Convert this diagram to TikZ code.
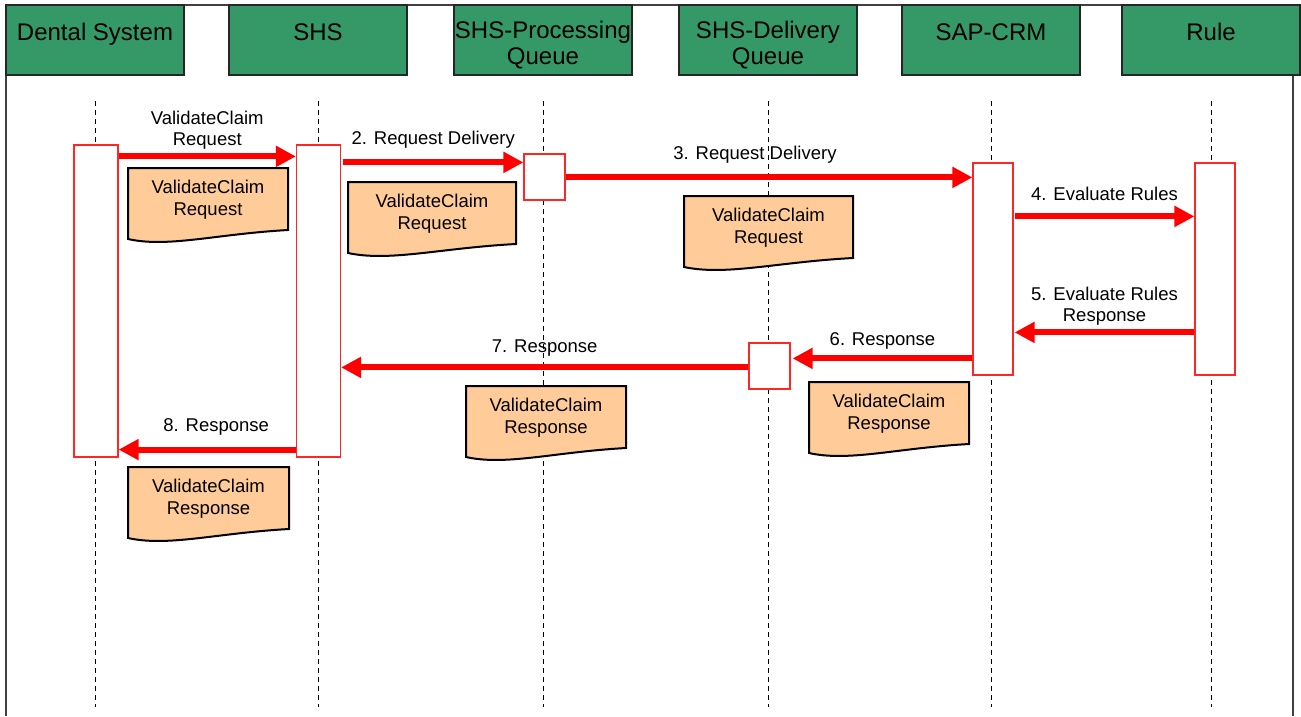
\documentclass[tikz,border=0pt]{standalone}
\usepackage{fontspec}
\setmainfont{Liberation Sans}
\usetikzlibrary{arrows.meta,positioning}
\definecolor{hdrgreen}{RGB}{52,153,102}
\definecolor{docorange}{RGB}{255,204,153}
\tikzstyle{hdr} = [draw=black!85, line width=2pt, fill=hdrgreen,
    minimum width=178pt, minimum height=70pt, inner sep=0pt,
    align=center, font=\fontsize{24}{26}\selectfont]
\tikzstyle{hdrone} = [hdr, text depth=16pt]
\tikzstyle{act} = [draw=red!85, fill=white, line width=1.2pt,
    minimum width=44pt, inner sep=0pt]
\tikzstyle{frame} = [draw=black!75, line width=1.5pt]
\tikzstyle{lifeline} = [dash pattern=on 5pt off 4pt, line width=1pt]
\tikzstyle{connector} = [draw=red, line width=6pt,
    -{Triangle[length=20pt,width=20pt]}]
\tikzstyle{lbl} = [align=center, font=\fontsize{18.5}{21}\selectfont]
\tikzstyle{docbox} = [draw=black, line width=2pt, fill=docorange]
\tikzstyle{doctext} = [align=center, font=\fontsize{18.5}{22}\selectfont]
\newcommand{\hdrstrut}{\rule{0pt}{28pt}}
% message document: name, left, top, width, text
\newcommand{\docnode}[5]{%
  \filldraw[docbox] (#2,#3) -- ++(#4,0) -- ++(0,62)
    .. controls +(-0.45*#4,4) and +(0.25*#4,9) .. ++(-#4,9) -- cycle;
  \node[doctext] (#1) at (#2+0.5*#4,#3+32) {#5};}

\begin{document}
\begin{tikzpicture}[x=1pt, y=-1pt]
	\useasboundingbox (0,0) rectangle (1301,716);
	\draw[frame] (6,716) -- (6,5) -- (1301,5);
	\draw[frame] (1293,75) -- (1293,716);

	\node[hdrone] (dental) at (95,40) {Dental System};
	\node[hdrone] (shs) at (318,40) {SHS};
	\node[hdr] (proc) at (543,40) {\hdrstrut SHS-Processing\\Queue};
	\node[hdr] (deliv) at (768,40) {\hdrstrut SHS-Delivery\\Queue};
	\node[hdrone] (sap) at (991,40) {SAP-CRM};
	\node[hdrone] (rule) at (1211,40) {Rule};

	\foreach \n in {dental,shs,proc,deliv,sap,rule}
		\draw[lifeline] ([yshift=-25pt]\n.south) -- ([yshift=-631pt]\n.south);

	\node[act, minimum height=312pt] (actDental) at (96,301) {};
	\node[act, minimum height=312pt] (actShs) at (318.5,301) {};
	\node[act, minimum width=41pt, minimum height=46pt] (actProc) at (544.5,177) {};
	\node[act, minimum width=40pt, minimum height=212pt] (actSap) at (993,269) {};
	\node[act, minimum width=40pt, minimum height=212pt] (actRule) at (1215,269) {};
	\node[act, minimum width=41pt, minimum height=46pt] (actDeliv) at (769.5,366) {};

	\draw[connector] ([yshift=-12pt]actDental.north east) -- ([yshift=-12pt]actShs.north west)
		node[lbl, midway, above=1pt] {ValidateClaim\\Request};
	\draw[connector] ([xshift=2pt,yshift=-18pt]actShs.north east) -- ([yshift=-9pt]actProc.north west)
		node[lbl, midway, above=8pt] {2. Request Delivery};
	\draw[connector] ([yshift=-24pt]actProc.north east) -- ([yshift=-15pt]actSap.north west)
		node[lbl, midway, above=8pt, xshift=-14pt] {3. Request Delivery};
	\draw[connector] ([xshift=1pt,yshift=-54pt]actSap.north east) -- ([yshift=-54pt]actRule.north west)
		node[lbl, midway, above=9pt] {4. Evaluate Rules};
	\draw[connector] ([yshift=-170pt]actRule.north west) -- ([xshift=1pt,yshift=-170pt]actSap.north east)
		node[lbl, midway, above=1pt] {5. Evaluate Rules\\Response};
	\draw[connector] ([yshift=-196pt]actSap.north west) -- ([xshift=2pt,yshift=-16pt]actDeliv.north east)
		node[lbl, midway, above=3pt] {6. Response};
	\draw[connector] ([yshift=-25pt]actDeliv.north west) -- ([yshift=-223pt]actShs.north east)
		node[lbl, midway, above=5pt] {7. Response};
	\draw[connector] ([yshift=8pt]actShs.south west) -- ([yshift=8pt]actDental.south east)
		node[lbl, midway, above=8pt, xshift=9pt] {8. Response};

	\docnode{docReq1}{128}{168}{160}{ValidateClaim\\Request}
	\docnode{docReq2}{348}{182}{168}{ValidateClaim\\Request}
	\docnode{docReq3}{684}{196}{169}{ValidateClaim\\Request}
	\docnode{docRes1}{809}{382}{160}{ValidateClaim\\Response}
	\docnode{docRes2}{466}{386}{160}{ValidateClaim\\Response}
	\docnode{docRes3}{128}{467}{161}{ValidateClaim\\Response}
\end{tikzpicture}
\end{document}
